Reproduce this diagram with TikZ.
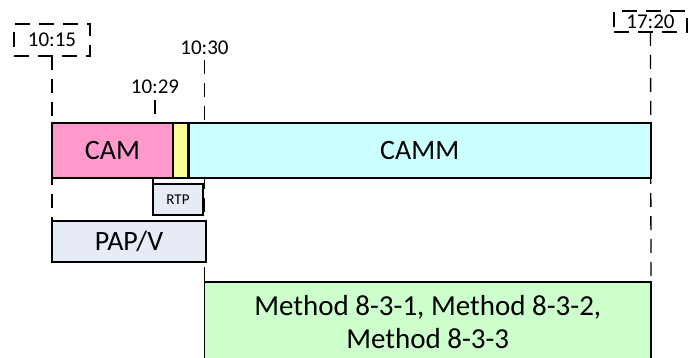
\documentclass[tikz,border=0pt]{standalone}
\usepackage{fontspec}
\setmainfont{Carlito}
\usetikzlibrary{positioning, backgrounds}

\definecolor{campink}{HTML}{FF99CC}
\definecolor{rtpyellow}{HTML}{FFFF99}
\definecolor{cammcyan}{HTML}{CCFFFF}
\definecolor{papgrey}{HTML}{E6EBF5}
\definecolor{methgreen}{HTML}{CCFFCC}

\begin{document}
\begin{tikzpicture}[
    x=1pt, y=-1pt,
    every node/.style={inner sep=0pt, outer sep=0pt},
    bar/.style={draw, line width=1.3pt, minimum height=55pt, font=\fontsize{28}{33}\selectfont},
    stamp/.style={draw, dash pattern=on 15pt off 9pt, line width=1.3pt, font=\fontsize{21}{25}\selectfont},
    tick/.style={inner ysep=6pt, font=\fontsize{21}{25}\selectfont},
    guide/.style={dash pattern=on 14pt off 9pt, line width=1.3pt}
]
\useasboundingbox (0,0) rectangle (688,358);

% time stamps
\node[stamp, minimum width=76pt, minimum height=32pt] (t1015) at (52,40) {10:15};
\node[stamp, minimum width=73pt, minimum height=21pt] (t1720) at (650.5,21.5) {17:20};
\node[tick] (t1030) at (204.5,47.5) {10:30};
\node[tick] (t1029) at (155,87) {10:29};

% main bar
\node[bar, fill=campink, minimum width=121pt] (cam) at (112.5,150.5) {CAM};
\node[bar, fill=rtpyellow, minimum width=15.5pt, right=0pt of cam] (rtpbar) {};
\node[bar, fill=cammcyan, minimum width=462.5pt, right=0pt of rtpbar] (camm) {CAMM};
\draw[line width=3pt] (rtpbar.north east) -- (rtpbar.south east);

% lower boxes
\node[draw, line width=1.3pt, fill=papgrey, minimum width=50pt, minimum height=31pt,
      font=\fontsize{15}{18}\selectfont] (rtp) at (178,199.5) {RTP};
\node[bar, fill=papgrey, minimum width=154pt, minimum height=41pt] (pap) at (129,241.5) {PAP/V};
\node[bar, fill=methgreen, minimum width=446.5pt, minimum height=80pt, align=center,
      font=\fontsize{29}{33}\selectfont]
    (method) at (427.75,322) {Method 8-3-1, Method 8-3-2,\\Method 8-3-3};

% guides
\begin{scope}[on background layer]
\draw[guide] (t1015) -- (pap.north west);
\draw[guide] (t1030) -- (method.north west);
\draw[guide] (t1720) -- (method.north east);
\draw[guide] (t1029) -- (t1029 |- cam.north);
\draw[line width=1.3pt] (rtp.north west) -- (rtp.north west |- cam.south);
\end{scope}

\end{tikzpicture}
\end{document}
